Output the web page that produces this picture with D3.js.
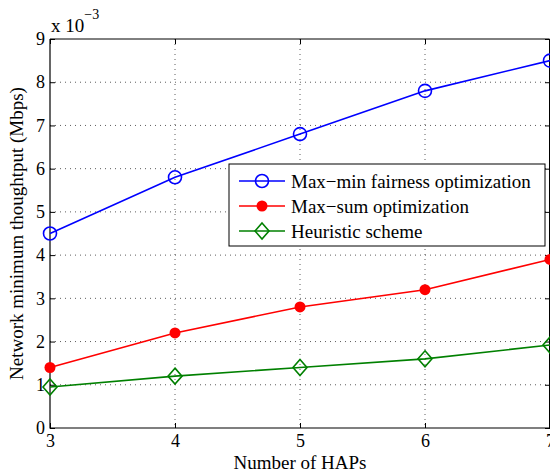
<!DOCTYPE html>
<html>
<head>
<meta charset="utf-8">
<script src="https://cdn.jsdelivr.net/npm/d3@7"></script>
<style>
  body { margin: 0; background: #fff; }
  svg { display: block; font-family: "Liberation Serif", "Times New Roman", serif; }
</style>
</head>
<body>
<div id="chart"></div>
<script>
// data (y values in units of 1e-3 Mbps)
const haps = [3, 4, 5, 6, 7];
const maxMin = [4.5, 5.8, 6.8, 7.8, 8.5];
const maxSum = [1.4, 2.2, 2.8, 3.2, 3.9];
const heuristic = [0.95, 1.2, 1.4, 1.6, 1.92];
const yTicks = [0, 1, 2, 3, 4, 5, 6, 7, 8, 9];
const seriesNames = ["Max\u2212min fairness optimization", "Max\u2212sum optimization", "Heuristic scheme"];

const width = 550, height = 472;
const margin = {top: 39, right: 0, bottom: 44, left: 50};
const innerW = width - margin.left - margin.right;
const innerH = height - margin.top - margin.bottom;
const serif = "'Liberation Serif', 'Times New Roman', serif";

const svg = d3.select("#chart").append("svg")
  .attr("width", width).attr("height", height);

const g = svg.append("g").attr("transform", `translate(${margin.left},${margin.top})`);

const x = d3.scaleLinear().domain([3, 7]).range([0, innerW]);
const y = d3.scaleLinear().domain([0, 9]).range([innerH, 0]);

// grid
g.append("g").selectAll("line")
  .data(haps.slice(1, -1))
  .join("line")
    .attr("x1", d => x(d)).attr("x2", d => x(d))
    .attr("y1", 0).attr("y2", innerH)
    .attr("stroke", "#333").attr("stroke-width", 0.8)
    .attr("stroke-dasharray", "1,4");
g.append("g").selectAll("line")
  .data(yTicks.slice(1, -1))
  .join("line")
    .attr("x1", 0).attr("x2", innerW)
    .attr("y1", d => y(d)).attr("y2", d => y(d))
    .attr("stroke", "#333").attr("stroke-width", 0.8)
    .attr("stroke-dasharray", "1,4");

// axes (ticks inward)
const xAxis = d3.axisBottom(x).tickValues(haps).tickSize(-5).tickPadding(6).tickFormat(d3.format("d"));
const yAxis = d3.axisLeft(y).tickValues(yTicks).tickSize(-5).tickPadding(5).tickFormat(d3.format("d"));

const gx = g.append("g").attr("transform", `translate(0,${innerH})`).call(xAxis);
const gy = g.append("g").call(yAxis);
[gx, gy].forEach(a => {
  a.attr("font-family", serif).attr("font-size", 18);
  a.select(".domain").remove();
  a.selectAll("line").attr("stroke", "#000");
  a.selectAll("text").attr("fill", "#000");
});
// top and right ticks
g.append("g").call(d3.axisTop(x).tickValues(haps).tickSize(-5).tickFormat(""))
  .call(a => a.select(".domain").remove());
g.append("g").attr("transform", `translate(${innerW},0)`)
  .call(d3.axisRight(y).tickValues(yTicks).tickSize(-5).tickFormat(""))
  .call(a => a.select(".domain").remove());

// box
g.append("path")
  .attr("d", `M0,0V${innerH}H${innerW}`)
  .attr("fill", "none").attr("stroke", "#000").attr("stroke-width", 1.2);
g.append("path")
  .attr("d", `M0,0H${innerW - 0.5}V${innerH}`)
  .attr("fill", "none").attr("stroke", "#000").attr("stroke-width", 1);

// series
const series = [
  {name: seriesNames[0], values: maxMin, color: "#0000ff", marker: "circle"},
  {name: seriesNames[1], values: maxSum, color: "#ff0000", marker: "dot"},
  {name: seriesNames[2], values: heuristic, color: "#008000", marker: "diamond"}
];

const line = d3.line().x((d, i) => x(haps[i])).y(d => y(d));

function drawMarker(sel, type, color) {
  if (type === "circle") {
    sel.append("circle").attr("r", 6.5).attr("fill", "none")
      .attr("stroke", color).attr("stroke-width", 1.6);
  } else if (type === "dot") {
    sel.append("circle").attr("r", 5.5).attr("fill", color);
  } else {
    sel.append("path").attr("d", "M0,-8L7,0L0,8L-7,0Z").attr("fill", "none")
      .attr("stroke", color).attr("stroke-width", 1.6);
  }
}

series.forEach(s => {
  g.append("path").datum(s.values)
    .attr("d", line).attr("fill", "none")
    .attr("stroke", s.color).attr("stroke-width", 1.6);
  g.selectAll(null).data(s.values).join("g")
    .attr("transform", (d, i) => `translate(${x(haps[i])},${y(d)})`)
    .each(function() { drawMarker(d3.select(this), s.marker, s.color); });
});

// legend
const lg = svg.append("g").attr("transform", "translate(229,164)");
lg.append("rect").attr("width", 316).attr("height", 82)
  .attr("fill", "#fff").attr("stroke", "#000").attr("stroke-width", 1);
series.forEach((s, i) => {
  const row = lg.append("g").attr("transform", `translate(0,${17 + i * 25})`);
  row.append("line").attr("x1", 10).attr("x2", 56)
    .attr("stroke", s.color).attr("stroke-width", 1.6);
  const m = row.append("g").attr("transform", "translate(33,0)");
  drawMarker(m, s.marker, s.color);
  row.append("text").attr("x", 62).attr("dy", "0.35em")
    .style("font-size", "19px").text(s.name);
});

// axis labels
svg.append("text")
  .attr("x", margin.left + innerW / 2).attr("y", 469)
  .attr("text-anchor", "middle").style("font-size", "19px")
  .text("Number of HAPs");
svg.append("text")
  .attr("transform", `translate(23,${margin.top + innerH / 2}) rotate(-90)`)
  .attr("text-anchor", "middle").style("font-size", "19px")
  .text("Network minimum thoughtput (Mbps)");

// exponent
const ex = svg.append("text").attr("x", 51).attr("y", 32).style("font-size", "19px");
ex.append("tspan").text("x 10");
ex.append("tspan").attr("dy", -13).style("font-size", "14px").text("\u22123");
</script>
</body>
</html>
